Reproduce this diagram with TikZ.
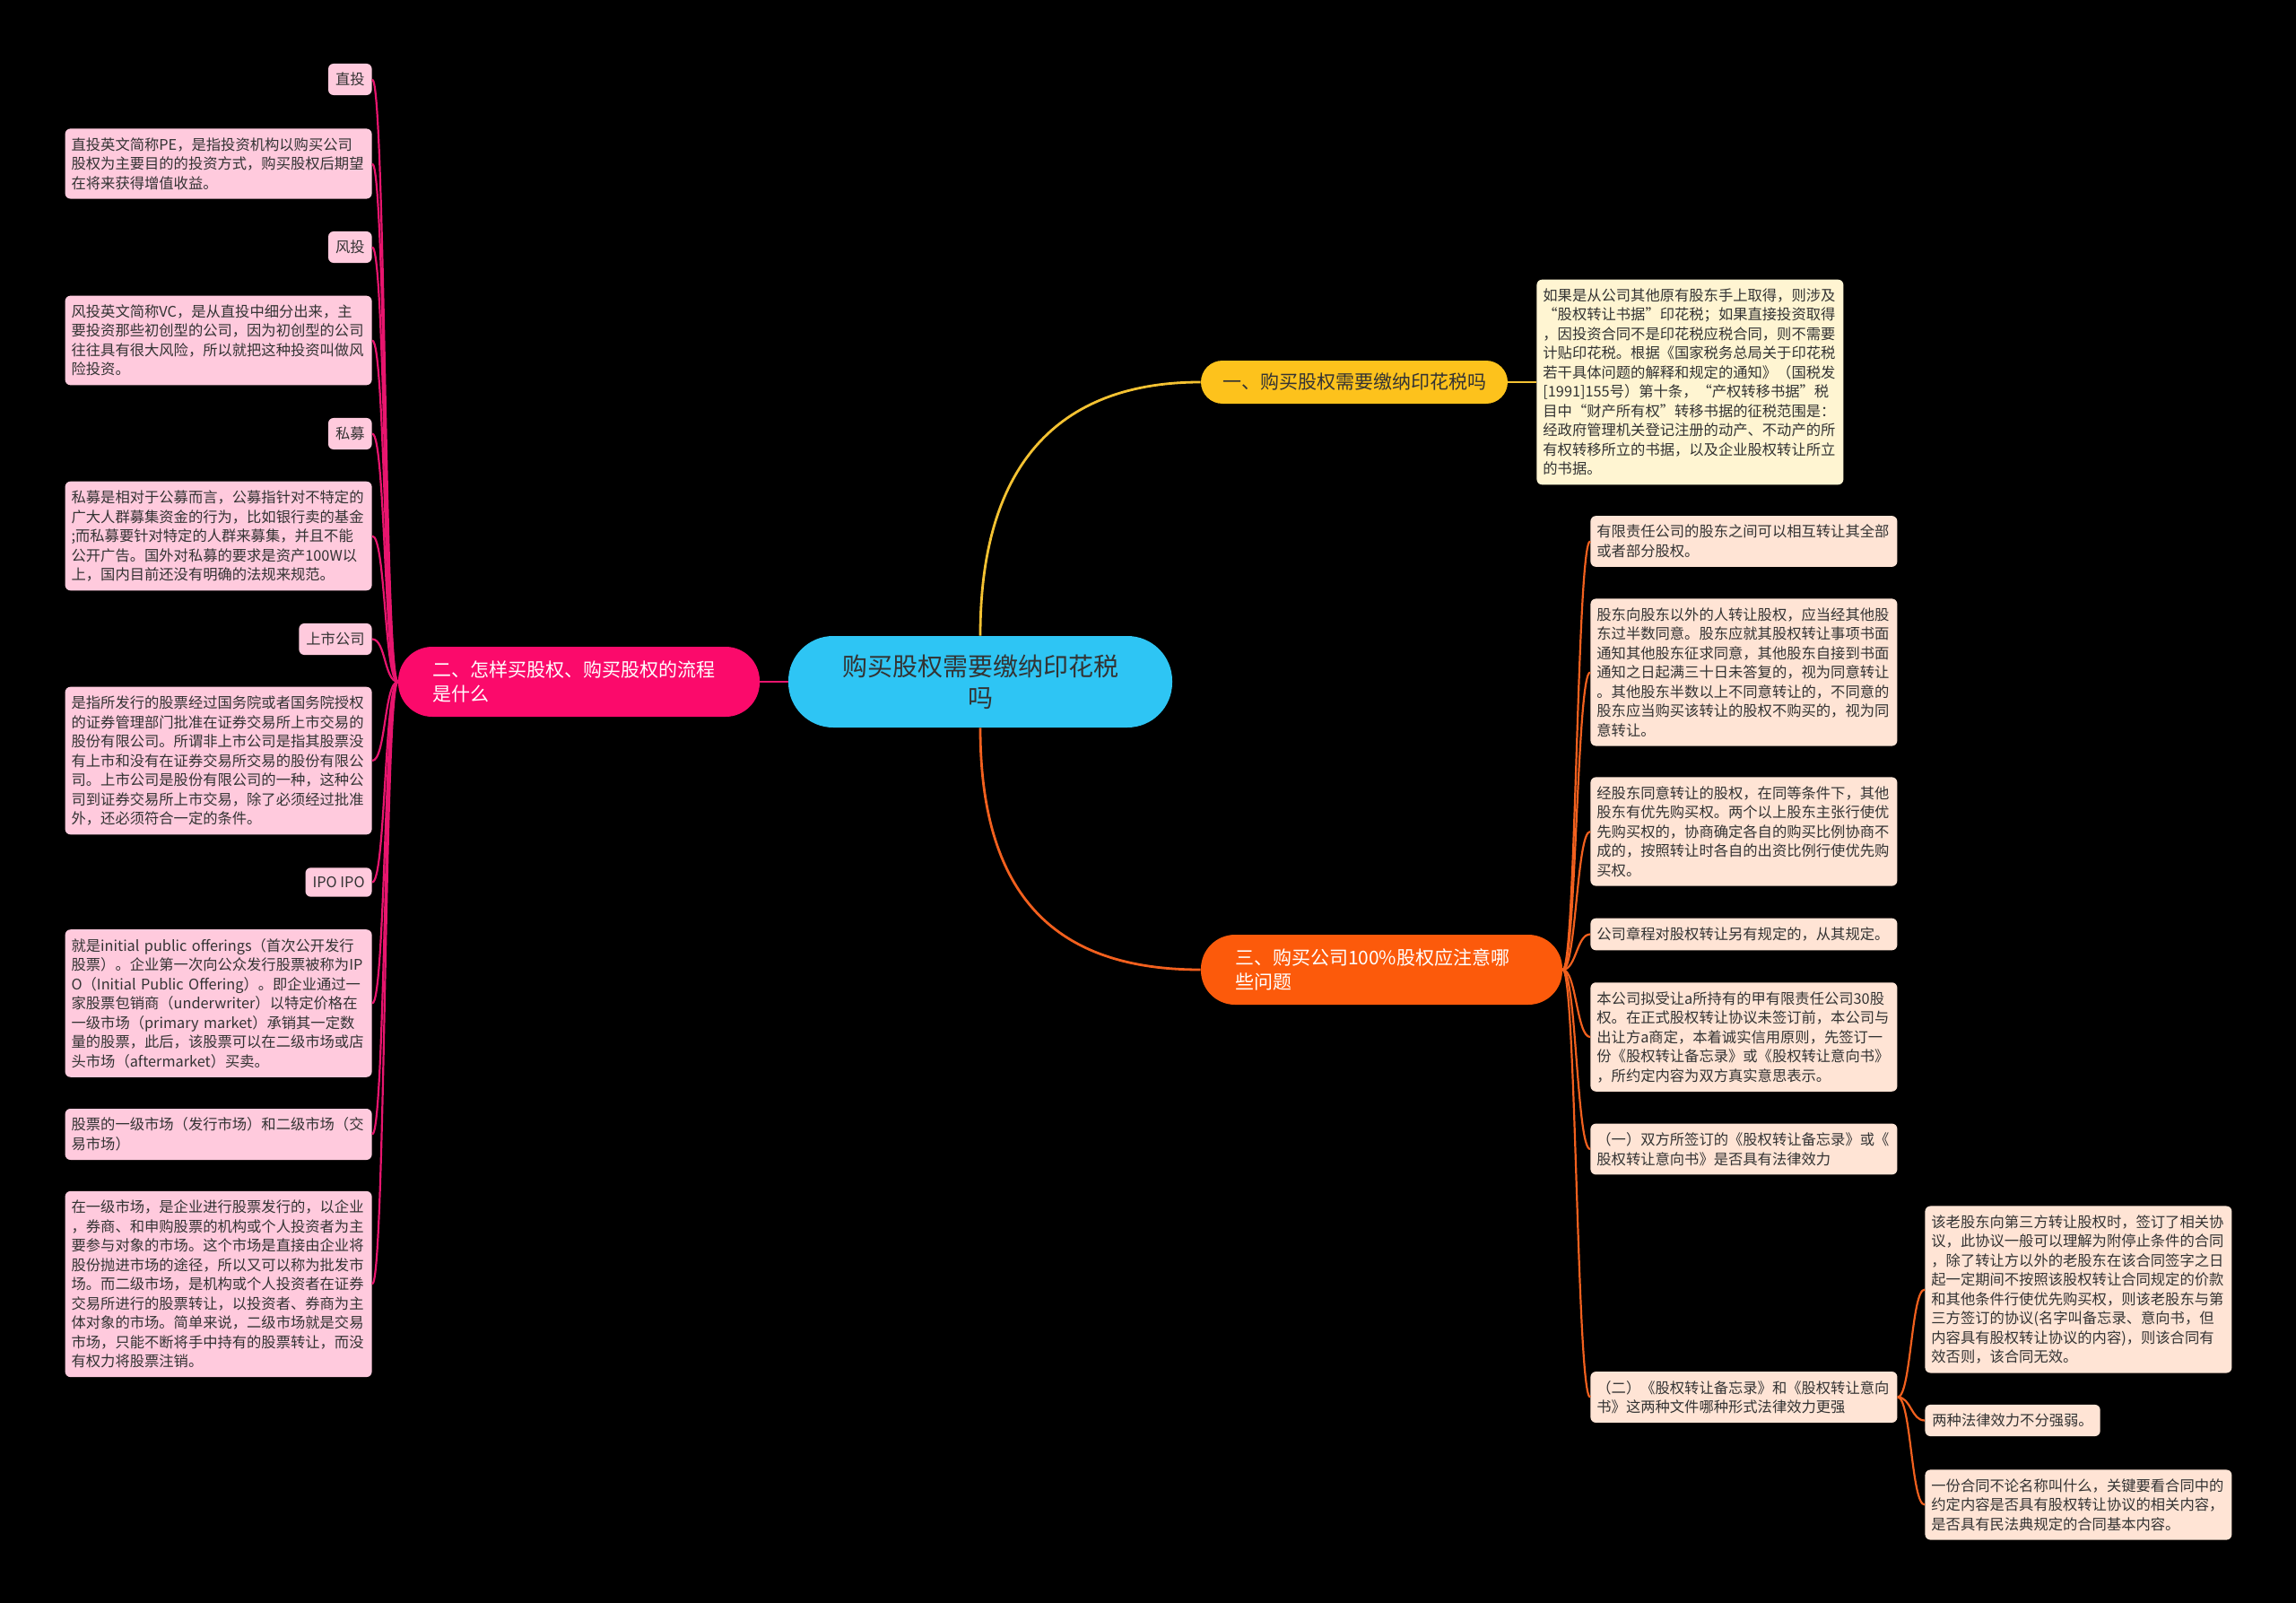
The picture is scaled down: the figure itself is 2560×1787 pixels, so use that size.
\documentclass[tikz,border=0pt]{standalone}
\usepackage{fontspec}
\setmainfont{Noto Sans CJK SC}
\definecolor{rootblue}{HTML}{2EC5F4}
\definecolor{gold}{HTML}{FDC21C}
\definecolor{goldline}{HTML}{F4C232}
\definecolor{cream}{HTML}{FFF5D2}
\definecolor{rose}{HTML}{FB0A6B}
\definecolor{roseline}{HTML}{E8156E}
\definecolor{pinkfill}{HTML}{FFCADD}
\definecolor{flame}{HTML}{FC5A0B}
\definecolor{flameline}{HTML}{F2601E}
\definecolor{peach}{HTML}{FFE4D5}
\definecolor{ink}{HTML}{333333}
\begin{document}
\begin{tikzpicture}[x=0.5pt,y=-0.5pt,
  root/.style={fill=rootblue, text=ink, rounded corners=25pt, minimum width=214pt, minimum height=51pt, inner sep=0pt, align=center, font=\fontsize{14pt}{17.5pt}\selectfont},
  topic/.style={fill=#1, text=ink, rounded corners=12pt, minimum width=171pt, minimum height=24pt, inner sep=0pt, align=center, font=\fontsize{10.5pt}{13.5pt}\selectfont},
  bigtopic/.style={fill=#1, text=white, rounded corners=19pt, text width=163.5pt, inner xsep=19pt, inner ysep=0pt, minimum height=39pt, align=left, font=\fontsize{10.5pt}{13.5pt}\selectfont},
  note/.style={fill=#1, text=ink, rounded corners=3pt, text width=164pt, inner xsep=3.5pt, inner ysep=5pt, align=left, font=\fontsize{8.15pt}{10.75pt}\selectfont},
  tag/.style={fill=#1, text=ink, rounded corners=3pt, inner xsep=4pt, inner ysep=5pt, font=\fontsize{8.15pt}{10.75pt}\selectfont},
  link/.style={draw=#1, line width=1.1pt},
  mainlink/.style={draw=#1, line width=1.4pt}]
\fill[black] (0,0) rectangle (2560,1787);

\node[root] (root) at (1093,760) {购买股权需要缴纳印花税\\吗};
\node[topic=gold] (b1) at (1510,426) {一、购买股权需要缴纳印花税吗};
\node[bigtopic=rose] (b2) at (645.5,760) {二、怎样买股权、购买股权的流程\\是什么};
\node[bigtopic=flame] (b3) at (1540.5,1081) {三、购买公司100\%股权应注意哪\\些问题};

\node[note=cream, anchor=west] (tax) at (1713,426) {如果是从公司其他原有股东手上取得，则涉及\\“股权转让书据”印花税；如果直接投资取得\\，因投资合同不是印花税应税合同，则不需要\\计贴印花税。根据《国家税务总局关于印花税\\若干具体问题的解释和规定的通知》（国税发\\{}[1991]155号）第十条，“产权转移书据”税\\目中“财产所有权”转移书据的征税范围是：\\经政府管理机关登记注册的动产、不动产的所\\有权转移所立的书据，以及企业股权转让所立\\的书据。};

\node[tag=pinkfill, anchor=east] (zt) at (415,88.5) {直投};
\node[note=pinkfill, anchor=east] (ztnote) at (415,182.5) {直投英文简称PE，是指投资机构以购买公司\\股权为主要目的的投资方式，购买股权后期望\\在将来获得增值收益。};
\node[tag=pinkfill, anchor=east] (ft) at (415,275.5) {风投};
\node[note=pinkfill, anchor=east] (ftnote) at (415,379.5) {风投英文简称VC，是从直投中细分出来，主\\要投资那些初创型的公司，因为初创型的公司\\往往具有很大风险，所以就把这种投资叫做风\\险投资。};
\node[tag=pinkfill, anchor=east] (sm) at (415,483.5) {私募};
\node[note=pinkfill, anchor=east] (smnote) at (415,597.5) {私募是相对于公募而言，公募指针对不特定的\\广大人群募集资金的行为，比如银行卖的基金\\;而私募要针对特定的人群来募集，并且不能\\公开广告。国外对私募的要求是资产100W以\\上，国内目前还没有明确的法规来规范。};
\node[tag=pinkfill, anchor=east] (ss) at (415,712.5) {上市公司};
\node[note=pinkfill, anchor=east] (ssnote) at (415,848) {是指所发行的股票经过国务院或者国务院授权\\的证券管理部门批准在证券交易所上市交易的\\股份有限公司。所谓非上市公司是指其股票没\\有上市和没有在证券交易所交易的股份有限公\\司。上市公司是股份有限公司的一种，这种公\\司到证券交易所上市交易，除了必须经过批准\\外，还必须符合一定的条件。};
\node[tag=pinkfill, anchor=east] (ipo) at (415,983.5) {IPO IPO};
\node[note=pinkfill, anchor=east] (iponote) at (415,1118.5) {就是initial~public~offerings（首次公开发行\\股票）。企业第一次向公众发行股票被称为IP\\O（Initial~Public~Offering）。即企业通过一\\家股票包销商（underwriter）以特定价格在\\一级市场（primary~market）承销其一定数\\量的股票，此后，该股票可以在二级市场或店\\头市场（aftermarket）买卖。};
\node[note=pinkfill, anchor=east] (mk) at (415,1264.5) {股票的一级市场（发行市场）和二级市场（交\\易市场）};
\node[note=pinkfill, anchor=east] (mknote) at (415,1431.5) {在一级市场，是企业进行股票发行的，以企业\\，券商、和申购股票的机构或个人投资者为主\\要参与对象的市场。这个市场是直接由企业将\\股份抛进市场的途径，所以又可以称为批发市\\场。而二级市场，是机构或个人投资者在证券\\交易所进行的股票转让，以投资者、券商为主\\体对象的市场。简单来说，二级市场就是交易\\市场，只能不断将手中持有的股票转让，而没\\有权力将股票注销。};

\node[note=peach, anchor=west] (r1) at (1773,603.5) {有限责任公司的股东之间可以相互转让其全部\\或者部分股权。};
\node[note=peach, anchor=west] (r2) at (1773,749.5) {股东向股东以外的人转让股权，应当经其他股\\东过半数同意。股东应就其股权转让事项书面\\通知其他股东征求同意，其他股东自接到书面\\通知之日起满三十日未答复的，视为同意转让\\。其他股东半数以上不同意转让的，不同意的\\股东应当购买该转让的股权不购买的，视为同\\意转让。};
\node[note=peach, anchor=west] (r3) at (1773,927) {经股东同意转让的股权，在同等条件下，其他\\股东有优先购买权。两个以上股东主张行使优\\先购买权的，协商确定各自的购买比例协商不\\成的，按照转让时各自的出资比例行使优先购\\买权。};
\node[note=peach, anchor=west] (r4) at (1773,1041.5) {公司章程对股权转让另有规定的，从其规定。};
\node[note=peach, anchor=west] (r5) at (1773,1156) {本公司拟受让a所持有的甲有限责任公司30股\\权。在正式股权转让协议未签订前，本公司与\\出让方a商定，本着诚实信用原则，先签订一\\份《股权转让备忘录》或《股权转让意向书》\\，所约定内容为双方真实意思表示。};
\node[note=peach, anchor=west] (r6) at (1773,1281) {（一）双方所签订的《股权转让备忘录》或《\\股权转让意向书》是否具有法律效力};
\node[note=peach, anchor=west] (r7) at (1773,1557.5) {（二）《股权转让备忘录》和《股权转让意向\\书》这两种文件哪种形式法律效力更强};
\node[note=peach, anchor=west] (q1) at (2146,1437.5) {该老股东向第三方转让股权时，签订了相关协\\议，此协议一般可以理解为附停止条件的合同\\，除了转让方以外的老股东在该合同签字之日\\起一定期间不按照该股权转让合同规定的价款\\和其他条件行使优先购买权，则该老股东与第\\三方签订的协议(名字叫备忘录、意向书，但\\内容具有股权转让协议的内容)，则该合同有\\效否则，该合同无效。};
\node[tag=peach, anchor=west] (q2) at (2146,1583.5) {两种法律效力不分强弱。};
\node[note=peach, anchor=west] (q3) at (2146,1677.5) {一份合同不论名称叫什么，关键要看合同中的\\约定内容是否具有股权转让协议的相关内容，\\是否具有民法典规定的合同基本内容。};

\draw[mainlink=goldline] (root.north) .. controls +(0,-200) and +(-150,0) .. (b1.west);
\draw[mainlink=roseline] (root.west) -- (b2.east);
\draw[mainlink=flameline] (root.south) .. controls +(0,200) and +(-150,0) .. (b3.west);
\draw[link=goldline] (b1.east) -- (tax.west);

\draw[link=roseline] (b2.west) .. controls +(-15,0) and +(15,0) .. (zt.east);
\draw[link=roseline] (b2.west) .. controls +(-15,0) and +(15,0) .. (ztnote.east);
\draw[link=roseline] (b2.west) .. controls +(-15,0) and +(15,0) .. (ft.east);
\draw[link=roseline] (b2.west) .. controls +(-15,0) and +(15,0) .. (ftnote.east);
\draw[link=roseline] (b2.west) .. controls +(-15,0) and +(15,0) .. (sm.east);
\draw[link=roseline] (b2.west) .. controls +(-15,0) and +(15,0) .. (smnote.east);
\draw[link=roseline] (b2.west) .. controls +(-15,0) and +(15,0) .. (ss.east);
\draw[link=roseline] (b2.west) .. controls +(-15,0) and +(15,0) .. (ssnote.east);
\draw[link=roseline] (b2.west) .. controls +(-15,0) and +(15,0) .. (ipo.east);
\draw[link=roseline] (b2.west) .. controls +(-15,0) and +(15,0) .. (iponote.east);
\draw[link=roseline] (b2.west) .. controls +(-15,0) and +(15,0) .. (mk.east);
\draw[link=roseline] (b2.west) .. controls +(-15,0) and +(15,0) .. (mknote.east);

\draw[link=flameline] (b3.east) .. controls +(15,0) and +(-15,0) .. (r1.west);
\draw[link=flameline] (b3.east) .. controls +(15,0) and +(-15,0) .. (r2.west);
\draw[link=flameline] (b3.east) .. controls +(15,0) and +(-15,0) .. (r3.west);
\draw[link=flameline] (b3.east) .. controls +(15,0) and +(-15,0) .. (r4.west);
\draw[link=flameline] (b3.east) .. controls +(15,0) and +(-15,0) .. (r5.west);
\draw[link=flameline] (b3.east) .. controls +(15,0) and +(-15,0) .. (r6.west);
\draw[link=flameline] (b3.east) .. controls +(15,0) and +(-15,0) .. (r7.west);
\draw[link=flameline] (r7.east) .. controls +(15,0) and +(-15,0) .. (q1.west);
\draw[link=flameline] (r7.east) .. controls +(15,0) and +(-15,0) .. (q2.west);
\draw[link=flameline] (r7.east) .. controls +(15,0) and +(-15,0) .. (q3.west);
\end{tikzpicture}
\end{document}
